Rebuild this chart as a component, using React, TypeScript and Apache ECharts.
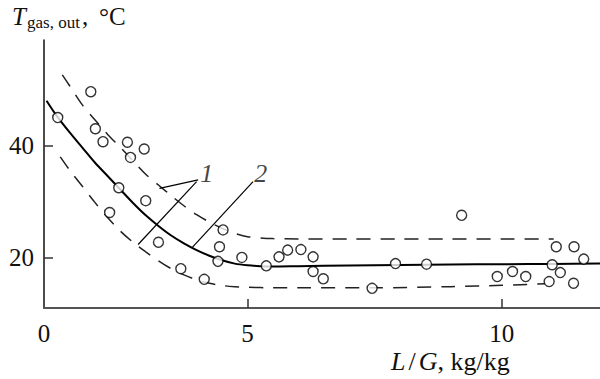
import React, { useEffect, useRef } from "react";
import * as echarts from "echarts";

// Measured points (L/G, T)
const pointsX = [1.27, 1.92, 2.01, 2.16, 2.64, 2.97, 2.70, 2.47, 3.00, 2.29, 3.25, 3.69, 4.15, 4.52, 4.45, 4.42, 4.89, 5.37, 5.62, 5.79, 6.05, 6.29, 6.29, 6.49, 9.21, 7.91, 8.52, 7.45, 11.07, 11.42, 11.61, 10.99, 11.15, 10.21, 9.91, 10.47, 10.93, 11.41];
const pointsY = [45.0, 49.6, 43.0, 40.7, 40.6, 39.4, 37.9, 32.5, 30.2, 28.1, 22.8, 18.1, 16.2, 25.0, 22.0, 19.4, 20.1, 18.6, 20.2, 21.4, 21.5, 20.2, 17.6, 16.3, 27.6, 19.0, 18.9, 14.6, 22.0, 22.0, 19.8, 18.8, 17.4, 17.6, 16.7, 16.7, 15.8, 15.5];

// Curve 2 (solid, fit)
const fitX = [1.05, 1.25, 1.5, 1.75, 2.0, 2.25, 2.5, 2.75, 3.0, 3.25, 3.5, 3.75, 4.0, 4.25, 4.5, 4.75, 5.0, 5.25, 5.5, 6.0, 7.0, 8.0, 9.0, 10.0, 11.0, 11.93];
const fitY = [48.0, 45.3, 42.4, 39.7, 37.0, 34.6, 32.2, 29.8, 27.6, 25.7, 24.0, 22.6, 21.4, 20.4, 19.6, 19.0, 18.7, 18.55, 18.5, 18.55, 18.65, 18.75, 18.85, 18.9, 18.95, 19.0];

// Curves 1 (dashed bounds)
const upperX = [1.36, 1.5, 1.75, 2.0, 2.25, 2.5, 2.75, 3.0, 3.25, 3.5, 3.75, 4.0, 4.25, 4.5, 4.75, 5.0, 5.5, 6.0, 7.0, 8.0, 9.0, 10.0, 11.02];
const upperY = [52.6, 50.7, 47.3, 44.6, 42.0, 39.7, 37.3, 34.9, 33.0, 31.1, 29.3, 27.7, 26.4, 25.3, 24.4, 23.8, 23.45, 23.4, 23.4, 23.4, 23.4, 23.4, 23.4];
const lowerX = [1.32, 1.5, 1.75, 2.0, 2.25, 2.5, 2.75, 3.0, 3.25, 3.5, 3.75, 4.0, 4.25, 4.5, 4.75, 5.0, 5.5, 6.0, 7.5, 9.0, 10.0, 10.85];
const lowerY = [38.0, 35.7, 32.8, 29.9, 27.2, 24.8, 22.8, 21.1, 19.5, 18.1, 17.0, 16.1, 15.5, 15.1, 14.9, 14.8, 14.7, 14.7, 14.7, 14.9, 15.15, 15.4];

// Leader lines for labels "1" and "2"
const leader1aX = [4.03, 3.27];
const leader1aY = [33.9, 32.4];
const leader1bX = [4.0, 2.85];
const leader1bY = [33.6, 22.4];
const leader2X = [5.11, 3.92];
const leader2Y = [33.6, 21.95];
const labelNames = ["1", "2"];
const labelX = [4.2, 5.26];
const labelY = [35.0, 35.0];

const xTicks = [5, 10];
const xLabels = [1, 5, 10];
const yTicks = [20, 40];

const FONT = "'Liberation Serif', 'Times New Roman', serif";

const zip = (xs: number[], ys: number[]) => xs.map((x, i) => [x, ys[i]]);

export default function App() {
  const ref = useRef<HTMLDivElement>(null);
  useEffect(() => {
    if (!ref.current) return;
    const chart = echarts.init(ref.current, undefined, { renderer: "svg" });
    const leaderStyle = { color: "#000", width: 1.2 };
    const dashStyle = { color: "#222", width: 1.5, type: [14, 10] as number[] };
    chart.setOption({
      animation: false,
      backgroundColor: "#fff",
      textStyle: { fontFamily: FONT },
      grid: { left: 44, right: 0, top: 40, bottom: 71 },
      xAxis: {
        type: "value",
        min: 1,
        max: 11.93,
        axisLine: { show: true, lineStyle: { color: "#555", width: 2 } },
        axisTick: { show: true, inside: true, length: 9, customValues: xTicks, lineStyle: { color: "#333", width: 1.5 } },
        axisLabel: {
          customValues: xLabels,
          formatter: (v: number) => (v === 1 ? "0" : String(v)),
          fontFamily: FONT,
          fontSize: 25,
          color: "#111",
          margin: 13,
        },
        splitLine: { show: false },
      },
      yAxis: {
        type: "value",
        min: 11.1,
        max: 58.8,
        axisLine: { show: true, lineStyle: { color: "#111", width: 1.5 } },
        axisTick: { show: true, inside: true, length: 9, customValues: yTicks, lineStyle: { color: "#333", width: 1.5 } },
        axisLabel: {
          customValues: yTicks,
          fontFamily: FONT,
          fontSize: 25,
          color: "#111",
          margin: 10,
        },
        splitLine: { show: false },
      },
      graphic: [
        {
          type: "group",
          left: 12,
          top: 4,
          children: [
            { type: "text", x: 0, y: 0, style: { text: "T", font: `italic 25px ${FONT}`, fill: "#111" } },
            { type: "text", x: 15, y: 10, style: { text: "gas, out", font: `17px ${FONT}`, fill: "#111" } },
            { type: "text", x: 70, y: 0, style: { text: ",", font: `25px ${FONT}`, fill: "#111" } },
            { type: "text", x: 87, y: 0, style: { text: "°C", font: `25px ${FONT}`, fill: "#111" } },
          ],
        },
        {
          type: "text",
          left: 391,
          top: 348,
          style: {
            text: "{i|L}{s|/}{i|G}{n|, kg/kg}",
            rich: {
              i: { fontFamily: FONT, fontStyle: "italic", fontSize: 26, fill: "#111" },
              s: { fontFamily: FONT, fontSize: 26, fill: "#111", padding: [0, 3, 0, 3] },
              n: { fontFamily: FONT, fontSize: 26, fill: "#111" },
            },
          },
        },
      ],
      series: [
        {
          type: "line",
          data: zip(upperX, upperY),
          smooth: 0.3,
          showSymbol: false,
          lineStyle: dashStyle,
          z: 2,
        },
        {
          type: "line",
          data: zip(lowerX, lowerY),
          smooth: 0.3,
          showSymbol: false,
          lineStyle: dashStyle,
          z: 2,
        },
        {
          type: "line",
          data: zip(fitX, fitY),
          smooth: 0.3,
          showSymbol: false,
          lineStyle: { color: "#000", width: 2 },
          z: 3,
        },
        { type: "line", data: zip(leader1aX, leader1aY), showSymbol: false, lineStyle: leaderStyle, z: 2 },
        { type: "line", data: zip(leader1bX, leader1bY), showSymbol: false, lineStyle: leaderStyle, z: 2 },
        { type: "line", data: zip(leader2X, leader2Y), showSymbol: false, lineStyle: leaderStyle, z: 2 },
        {
          type: "scatter",
          data: labelNames.map((n, i) => ({ value: [labelX[i], labelY[i]], name: n })),
          symbolSize: 0,
          label: {
            show: true,
            position: "inside",
            formatter: (p: any) => p.name,
            fontFamily: FONT,
            fontStyle: "italic",
            fontSize: 26,
            color: "#111",
          },
          z: 5,
        },
        {
          type: "scatter",
          data: zip(pointsX, pointsY),
          symbol: "circle",
          symbolSize: 10,
          itemStyle: { color: "#fff", borderColor: "#000", borderWidth: 1.4 },
          z: 10,
        },
      ],
    });
    return () => chart.dispose();
  }, []);
  return <div ref={ref} style={{ width: 600, height: 379, position: "absolute", left: 0, top: 0 }} />;
}
